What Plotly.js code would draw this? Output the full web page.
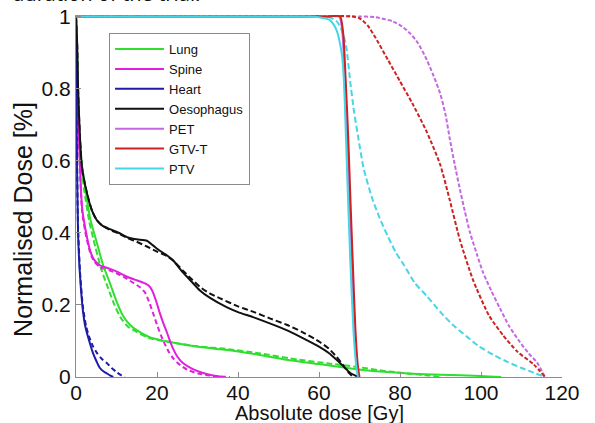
<!DOCTYPE html>
<html>
<head>
<meta charset="utf-8">
<script src="https://cdn.plot.ly/plotly-3.0.1.min.js"></script>
<style>html,body{margin:0;padding:0;background:#fff;}#chart{width:595px;height:423px;}</style>
</head>
<body>
<div id="chart"></div>
<script>
// ---- Data ----
const organs = ["Lung", "Spine", "Heart", "Oesophagus", "PET", "GTV-T", "PTV"];

const lungSolidX = [0, 0.5, 1, 2.2, 3.5, 5.2, 6.7, 8.4, 10, 11.6, 13.3, 15, 18.3, 23.2, 30.6, 37.3, 45, 52, 60, 67, 75, 82, 90, 100, 105];
const lungSolidY = [1, 0.8, 0.63, 0.53, 0.44, 0.37, 0.31, 0.26, 0.21, 0.17, 0.145, 0.13, 0.11, 0.097, 0.083, 0.075, 0.062, 0.048, 0.036, 0.025, 0.015, 0.01, 0.006, 0.003, 0];
const lungDashX = [0, 0.5, 1, 2, 3.3, 4.8, 6.2, 7.8, 9.5, 11, 12.8, 15, 18, 23, 30, 37, 45, 55, 62, 69.4, 76, 82.5, 87, 90];
const lungDashY = [1, 0.8, 0.62, 0.52, 0.43, 0.36, 0.3, 0.25, 0.2, 0.165, 0.14, 0.125, 0.108, 0.097, 0.085, 0.078, 0.066, 0.048, 0.038, 0.028, 0.017, 0.009, 0.004, 0];

const spineSolidX = [0, 0.5, 1, 1.5, 2.5, 3.5, 4.5, 5.9, 8.4, 10.5, 12.6, 14.5, 16.5, 17.8, 18.8, 19.8, 20.7, 21.6, 22.5, 23.3, 24, 25, 26.4, 28.5, 30.6, 33, 35, 36.5];
const spineSolidY = [1, 0.75, 0.58, 0.47, 0.4, 0.35, 0.325, 0.31, 0.3, 0.29, 0.278, 0.27, 0.262, 0.255, 0.24, 0.21, 0.177, 0.148, 0.122, 0.097, 0.078, 0.057, 0.039, 0.024, 0.014, 0.006, 0.002, 0];
const spineDashX = [0, 0.5, 1, 1.5, 2.5, 3.5, 4.5, 5.9, 8.4, 10.5, 12.6, 14, 15.8, 17, 18, 19, 20, 21, 22, 23, 24, 25.5, 27.5, 30, 33, 36, 38];
const spineDashY = [1, 0.74, 0.57, 0.46, 0.39, 0.345, 0.32, 0.305, 0.295, 0.285, 0.272, 0.262, 0.249, 0.235, 0.21, 0.178, 0.145, 0.115, 0.09, 0.068, 0.052, 0.035, 0.02, 0.01, 0.004, 0.001, 0];

const heartSolidX = [0, 0.2, 0.5, 1, 1.7, 2.3, 3, 4.2, 5, 5.9, 7, 7.6, 8.5, 9.2];
const heartSolidY = [1, 0.65, 0.4, 0.28, 0.185, 0.14, 0.11, 0.066, 0.045, 0.025, 0.014, 0.01, 0.004, 0];
const heartDashX = [0, 0.2, 0.5, 1, 1.7, 2.5, 3.3, 4.2, 5.2, 6.4, 7.6, 8.8, 10, 11, 12];
const heartDashY = [1, 0.66, 0.42, 0.29, 0.195, 0.14, 0.11, 0.085, 0.066, 0.05, 0.039, 0.025, 0.014, 0.006, 0];

const oesoSolidX = [0, 0.3, 0.5, 1, 1.5, 2.7, 4, 5.2, 6.5, 8.4, 10.5, 12.8, 15, 17.5, 19, 20.7, 22.5, 24, 26.4, 28.5, 30.6, 33, 37.3, 40, 43.7, 48, 52, 56, 60.2, 62.5, 64.4, 66, 67.7, 69, 70];
const oesoSolidY = [1, 0.92, 0.8, 0.66, 0.58, 0.51, 0.46, 0.434, 0.42, 0.41, 0.4, 0.387, 0.382, 0.378, 0.365, 0.35, 0.337, 0.323, 0.29, 0.265, 0.24, 0.22, 0.193, 0.18, 0.166, 0.148, 0.13, 0.108, 0.083, 0.066, 0.047, 0.03, 0.011, 0.004, 0];
const oesoDashX = [0, 0.3, 0.5, 1, 1.5, 2.7, 4, 5.2, 6.5, 8.4, 10.5, 12.8, 15, 17.5, 20, 22.5, 24, 26.4, 28.5, 30.6, 33, 35.6, 40, 44, 48, 52, 56, 60.2, 62.5, 64.4, 66, 67.5, 68.5];
const oesoDashY = [1, 0.92, 0.8, 0.66, 0.58, 0.51, 0.46, 0.434, 0.42, 0.408, 0.398, 0.385, 0.375, 0.362, 0.348, 0.335, 0.323, 0.295, 0.272, 0.25, 0.232, 0.218, 0.196, 0.18, 0.162, 0.145, 0.124, 0.097, 0.078, 0.055, 0.032, 0.01, 0];

const petSolidX = [0, 55, 62, 65, 65.8, 66.4, 67, 67.6, 68.2, 68.8, 69.4, 69.8];
const petSolidY = [1, 1, 1, 1, 0.95, 0.82, 0.67, 0.48, 0.3, 0.13, 0.03, 0];
const petDashX = [0, 70, 74, 78.3, 80.5, 82.5, 84.5, 86.6, 88.3, 89.9, 91.2, 92.3, 93.5, 94.8, 96, 97.3, 99, 100.5, 102.5, 104.7, 107, 109.6, 111.8, 113.8, 115.8];
const petDashY = [1, 1, 0.998, 0.986, 0.972, 0.953, 0.925, 0.88, 0.835, 0.787, 0.73, 0.66, 0.59, 0.52, 0.46, 0.4, 0.34, 0.29, 0.24, 0.19, 0.14, 0.097, 0.065, 0.041, 0];

const gtvSolidX = [0, 55, 62, 65.2, 66, 66.6, 67.2, 67.8, 68.4, 69, 69.6, 70];
const gtvSolidY = [1, 1, 1, 1, 0.95, 0.82, 0.67, 0.48, 0.3, 0.13, 0.03, 0];
const gtvDashX = [0, 68, 70, 72, 74, 77, 80, 83, 86.6, 89.9, 92.3, 94.8, 98, 102, 105.5, 109, 113, 115.8];
const gtvDashY = [1, 1, 0.995, 0.975, 0.94, 0.88, 0.82, 0.76, 0.68, 0.59, 0.49, 0.38, 0.27, 0.17, 0.115, 0.07, 0.035, 0];

const ptvSolidX = [0, 55, 60, 62.7, 63.6, 64.4, 65.1, 65.7, 66.1, 66.4, 67, 67.7, 68.5, 69.2, 69.6];
const ptvSolidY = [1, 1, 0.998, 0.99, 0.978, 0.96, 0.93, 0.89, 0.83, 0.75, 0.55, 0.33, 0.13, 0.03, 0];
const ptvDashX = [0, 62, 64.5, 66, 66.8, 67.7, 68.6, 69.6, 71, 73, 75, 77, 79, 81, 83.7, 86.6, 90, 93, 96.5, 99.5, 103, 106.5, 110, 113, 115.8];
const ptvDashY = [1, 1, 0.985, 0.95, 0.91, 0.82, 0.74, 0.67, 0.58, 0.5, 0.44, 0.39, 0.345, 0.31, 0.26, 0.225, 0.18, 0.145, 0.112, 0.085, 0.062, 0.042, 0.025, 0.012, 0];

const xTicks = [0, 20, 40, 60, 80, 100, 120];
const yTicks = [0, 0.2, 0.4, 0.6, 0.8, 1];

// ---- Styles ----
const colors = {
  "Lung": "#2fde2f",
  "Spine": "#e020dc",
  "Heart": "#1c1ca6",
  "Oesophagus": "#111111",
  "PET": "#c468e2",
  "GTV-T": "#cc2222",
  "PTV": "#46d6e6"
};
const dashes = {
  "Lung": "6px,3px", "Spine": "5px,3px", "Heart": "5px,3px", "Oesophagus": "6px,3px",
  "PET": "4px,2px", "GTV-T": "4px,2px", "PTV": "6px,3px"
};

const series = [
  ["Lung", lungSolidX, lungSolidY, lungDashX, lungDashY],
  ["Spine", spineSolidX, spineSolidY, spineDashX, spineDashY],
  ["Heart", heartSolidX, heartSolidY, heartDashX, heartDashY],
  ["Oesophagus", oesoSolidX, oesoSolidY, oesoDashX, oesoDashY],
  ["PET", petSolidX, petSolidY, petDashX, petDashY],
  ["GTV-T", gtvSolidX, gtvSolidY, gtvDashX, gtvDashY],
  ["PTV", ptvSolidX, ptvSolidY, ptvDashX, ptvDashY]
];

const traces = [];
series.forEach(s => {
  traces.push({
    x: s[3], y: s[4], type: "scatter", mode: "lines", name: s[0] + " (dashed)",
    showlegend: false, hoverinfo: "skip",
    line: {color: colors[s[0]], width: 2, dash: dashes[s[0]], shape: "spline", smoothing: 0.6}
  });
});
series.forEach(s => {
  traces.push({
    x: s[1], y: s[2], type: "scatter", mode: "lines", name: s[0],
    showlegend: true,
    line: {color: colors[s[0]], width: 2, shape: "spline", smoothing: 0.6}
  });
});

const axisFont = {family: "Liberation Sans, Arial, sans-serif", size: 21, color: "#111"};

const layout = {
  width: 595, height: 423,
  margin: {l: 76, r: 33, t: 15, b: 46},
  paper_bgcolor: "#fff", plot_bgcolor: "#fff",
  showlegend: true,
  legend: {
    x: 0.068, y: 0.95, xanchor: "left", yanchor: "top",
    bgcolor: "#fff", bordercolor: "#8a8a8a", borderwidth: 1,
    font: {family: "Liberation Sans, Arial, sans-serif", size: 13, color: "#111"},
    tracegroupgap: 0, itemwidth: 49
  },
  xaxis: {
    range: [0, 120], tickvals: xTicks, ticktext: xTicks.map(String),
    showline: true, linecolor: "#8c8c8c", linewidth: 1,
    ticks: "inside", ticklen: 5, tickcolor: "#8c8c8c",
    showgrid: false, zeroline: false, tickfont: axisFont, ticklabelstandoff: -3
  },
  yaxis: {
    range: [0, 1.004], tickvals: yTicks, ticktext: yTicks.map(String),
    showline: true, linecolor: "#8c8c8c", linewidth: 1,
    ticks: "inside", ticklen: 5, tickcolor: "#8c8c8c",
    showgrid: false, zeroline: false, tickfont: axisFont
  },
  annotations: [
    {text: "Absolute dose [Gy]", xref: "paper", yref: "paper", x: 0.5, y: -0.1,
     xanchor: "center", yanchor: "middle", showarrow: false,
     font: {family: "Liberation Sans, Arial, sans-serif", size: 20, color: "#111"}},
    {text: "Normalised Dose [%]", xref: "paper", yref: "paper", x: -0.109, y: 0.434,
     xanchor: "center", yanchor: "middle", textangle: -90, showarrow: false,
     font: {family: "Liberation Sans, Arial, sans-serif", size: 25, color: "#111"}},
    {text: "duration of the trial.", xref: "paper", yref: "paper", x: -0.1358, y: 1.016,
     xanchor: "left", yanchor: "bottom", showarrow: false,
     font: {family: "Noto Sans, sans-serif", size: 20, color: "#111"}}
  ]
};

Plotly.newPlot("chart", traces, layout, {staticPlot: true, displayModeBar: false});
</script>
</body>
</html>
